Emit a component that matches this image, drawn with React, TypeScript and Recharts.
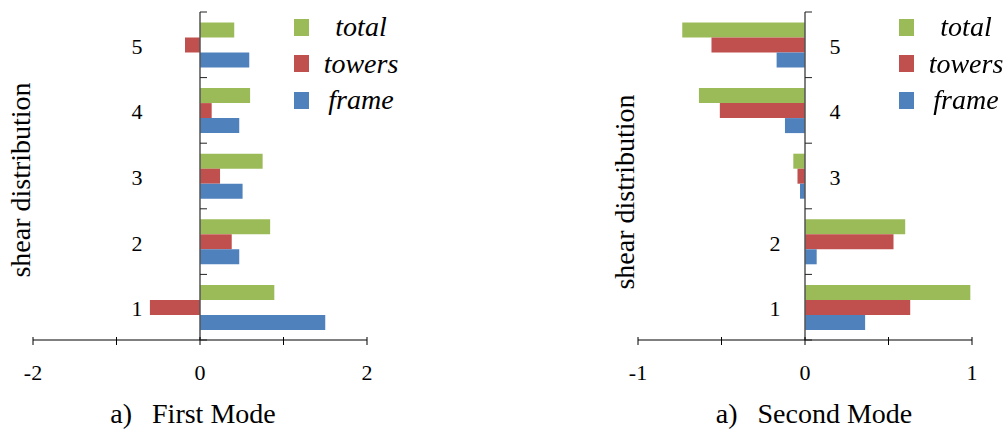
import { BarChart, Bar, XAxis, YAxis, ReferenceLine, Legend } from "recharts";

// levels listed top to bottom, as drawn
const levels = ["5", "4", "3", "2", "1"];

const firstTotal = [0.41, 0.6, 0.75, 0.84, 0.89];
const firstTowers = [-0.18, 0.14, 0.24, 0.38, -0.6];
const firstFrame = [0.59, 0.47, 0.51, 0.47, 1.5];

const secondTotal = [-0.735, -0.635, -0.07, 0.6, 0.99];
const secondTowers = [-0.56, -0.51, -0.045, 0.53, 0.63];
const secondFrame = [-0.17, -0.12, -0.03, 0.07, 0.36];

const firstTicks = [-2, -1, 0, 1, 2];
const firstTickLabels = ["-2", "", "0", "", "2"];
const secondTicks = [-1, -0.5, 0, 0.5, 1];
const secondTickLabels = ["-1", "", "0", "", "1"];

const seriesKeys = ["total", "towers", "frame"];
const seriesColors = ["#9BBB59", "#C0504D", "#4F81BD"];

const FONT = "Liberation Serif, Times New Roman, serif";
const W = 504;
const H = 430;
const TOP = 12;
const X_AXIS_H = 90;
const Y_AXIS_W = 2;
const BAND = (H - TOP - X_AXIS_H) / levels.length;

const firstData = levels.map((level, i) => ({
  level,
  total: firstTotal[i],
  towers: firstTowers[i],
  frame: firstFrame[i],
}));

const secondData = levels.map((level, i) => ({
  level,
  total: secondTotal[i],
  towers: secondTowers[i],
  frame: secondFrame[i],
}));

type Row = (typeof firstData)[number];

interface ChartProps {
  data: Row[];
  ticks: number[];
  tickLabels: string[];
  left: number;
  right: number;
  title: string;
  titleX: number;
  yLabelX: number;
  yLabelY: number;
  legendLeft: number;
  labelDx: (row: Row) => number;
}

function LegendBox({ payload }: any) {
  const items = [...(payload || [])].sort(
    (a: any, b: any) => seriesKeys.indexOf(a.value) - seriesKeys.indexOf(b.value)
  );
  return (
    <div style={{ fontFamily: FONT }}>
      {items.map((p: any) => (
        <div
          key={p.value}
          style={{ display: "flex", alignItems: "center", height: 36.5 }}
        >
          <div style={{ width: 15, height: 17, background: p.color }} />
          <div
            style={{
              width: 104,
              textAlign: "center",
              fontStyle: "italic",
              fontSize: 28,
              lineHeight: "36.5px",
              color: "#000",
              fontFamily: FONT,
            }}
          >
            {p.value}
          </div>
        </div>
      ))}
    </div>
  );
}

function ModeChart(props: ChartProps) {
  const { data, ticks, tickLabels, left, right } = props;
  const zeroX = left + Y_AXIS_W + (W - left - right - Y_AXIS_W) / 2;

  const yTick = (tp: any) => {
    const { y, payload, index } = tp;
    const row = data.find((d) => d.level === payload.value) as Row;
    return (
      <g>
        <line x1={zeroX} x2={zeroX + 7} y1={y - BAND / 2} y2={y - BAND / 2} stroke="#222" />
        {index === data.length - 1 && (
          <line x1={zeroX} x2={zeroX + 7} y1={y + BAND / 2} y2={y + BAND / 2} stroke="#222" />
        )}
        <text
          x={zeroX + props.labelDx(row)}
          y={y + 9}
          textAnchor="middle"
          fontSize={22}
          fontFamily={FONT}
          fill="#000"
        >
          {payload.value}
        </text>
      </g>
    );
  };

  const xTick = (tp: any) => {
    const { x, y, payload } = tp;
    return (
      <g>
        <line x1={x} x2={x} y1={y - 3} y2={y + 5} stroke="#000" />
        <text x={x} y={y + 40} textAnchor="middle" fontSize={22} fontFamily={FONT} fill="#000">
          {tickLabels[ticks.indexOf(payload.value)]}
        </text>
      </g>
    );
  };

  return (
    <BarChart
      width={W}
      height={H}
      data={data}
      layout="vertical"
      margin={{ top: TOP, right, bottom: 0, left }}
      barCategoryGap="16%"
      barGap={0}
    >
      <XAxis
        type="number"
        domain={[ticks[0], ticks[ticks.length - 1]]}
        ticks={ticks}
        height={X_AXIS_H}
        axisLine={{ stroke: "#000" }}
        tickLine={false}
        tickSize={0}
        tickMargin={0}
        tick={xTick}
        interval={0}
        label={{
          content: () => (
            <text
              x={props.titleX}
              y={423}
              textAnchor="middle"
              fontSize={28}
              fontFamily={FONT}
              fill="#000"
            >
              <tspan>a)</tspan>
              <tspan dx={20}>{props.title}</tspan>
            </text>
          ),
        }}
      />
      <YAxis
        type="category"
        dataKey="level"
        width={Y_AXIS_W}
        axisLine={false}
        tickLine={false}
        interval={0}
        tick={yTick}
        label={{
          content: () => (
            <text
              x={0}
              y={0}
              transform={`translate(${props.yLabelX}, ${props.yLabelY}) rotate(-90)`}
              textAnchor="middle"
              fontSize={28}
              fontFamily={FONT}
              fill="#000"
            >
              shear distribution
            </text>
          ),
        }}
      />
      {seriesKeys.map((k, i) => (
        <Bar key={k} dataKey={k} name={k} fill={seriesColors[i]} isAnimationActive={false} />
      ))}
      <ReferenceLine x={0} stroke="#555" strokeWidth={1.5} />
      <Legend
        layout="horizontal"
        align="center"
        verticalAlign="middle"
        content={LegendBox}
        wrapperStyle={{ left: props.legendLeft, top: 9, width: 125 }}
      />
    </BarChart>
  );
}

export default function App() {
  return (
    <div
      style={{
        position: "fixed",
        left: 0,
        top: 0,
        width: 1008,
        height: 430,
        background: "#fff",
        display: "flex",
      }}
    >
      <ModeChart
        data={firstData}
        ticks={firstTicks}
        tickLabels={firstTickLabels}
        left={31}
        right={137}
        title="First Mode"
        titleX={193}
        yLabelX={30}
        yLabelY={180}
        legendLeft={294}
        labelDx={() => -63}
      />
      <ModeChart
        data={secondData}
        ticks={secondTicks}
        tickLabels={secondTickLabels}
        left={132}
        right={36}
        title="Second Mode"
        titleX={310}
        yLabelX={130}
        yLabelY={192}
        legendLeft={395}
        labelDx={(row) => (row.total < 0 ? 30 : -30)}
      />
    </div>
  );
}
